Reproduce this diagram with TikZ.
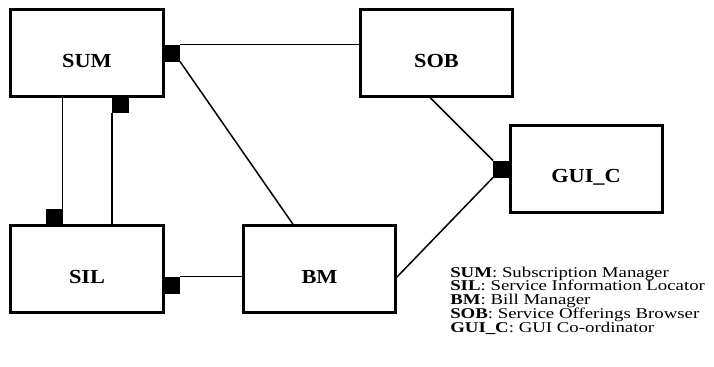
\documentclass[tikz,border=0pt]{standalone}
\usepackage{fontspec}
\setmainfont{Liberation Serif}
\begin{document}
\begin{tikzpicture}[x=1bp,y=-1bp,
  comp/.style={draw, line width=3bp, minimum width=152bp, minimum height=87bp,
    inner sep=0pt, outer sep=0pt},
  port/.style={fill=black, draw=none, minimum width=17bp, minimum height=17bp,
    inner sep=0pt, outer sep=0pt},
  conn/.style={line width=1.5bp},
  lbl/.style={font=\fontsize{20}{24}\selectfont\bfseries, xscale=1.12},
  legend/.style={font=\fontsize{15}{18}\selectfont, anchor=base west, inner sep=0pt, xscale=1.26}]
\useasboundingbox (0,0) rectangle (714,366);

% components
\node[comp, label={[lbl, yshift=-8.5bp]center:SUM}] (sum) at (87,52.5) {};
\node[comp, label={[lbl, yshift=-8.5bp]center:SIL}] (sil) at (87,268.5) {};
\node[comp, label={[lbl, yshift=-8.5bp]center:BM}] (bm) at (319.5,268.5) {};
\node[comp, label={[lbl, yshift=-8.5bp]center:SOB}] (sob) at (436.5,52.5) {};
\node[comp, label={[lbl, yshift=-8.5bp]center:GUI\_C}] (gui) at (586,169) {};

% ports
\node[port] (p1) at (171.5,53) {};
\node[port] (p2) at (120.5,104) {};
\node[port] (p3) at (54,217) {};
\node[port] (p4) at (171.5,285) {};
\node[port] (p5) at (501.5,169) {};

% connectors
\draw[conn] (p1.north east) -- (p1.north east -| sob.west);
\draw[conn] (p1.south east) -- ([xshift=50bp]bm.north west);
\draw[conn] (p2.south west) -- (p2.south west |- sil.north);
\draw[conn] (p3.north east |- sum.south) -- (p3.north east);
\draw[conn] (p4.north east) -- (p4.north east -| bm.west);
\draw[conn] ([xshift=68bp]sob.south west) -- (p5.north west);
\draw[conn] ([yshift=-10bp]bm.east) -- (p5.south west);

% legend
\node[legend] (l1) at (450,277) {\textbf{SUM}: Subscription Manager};
\node[legend] (l2) at (450,290.75) {\textbf{SIL}: Service Information Locator};
\node[legend] (l3) at (450,304.5) {\textbf{BM}: Bill Manager};
\node[legend] (l4) at (450,318.25) {\textbf{SOB}: Service Offerings Browser};
\node[legend] (l5) at (450,332) {\textbf{GUI\_C}: GUI Co-ordinator};
\end{tikzpicture}
\end{document}
